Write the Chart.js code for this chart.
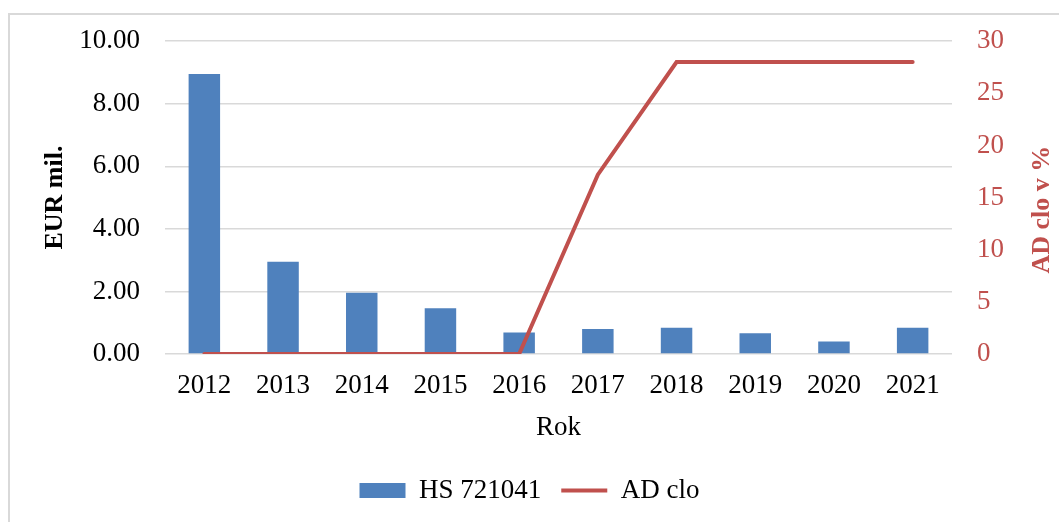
<!DOCTYPE html>
<html>
<head>
<meta charset="utf-8">
<script src="https://cdn.jsdelivr.net/npm/chart.js@4/dist/chart.umd.min.js"></script>
<style>
  body { margin: 0; background: #fff; }
  canvas { display: block; }
</style>
</head>
<body>
<canvas id="chart" width="1059" height="522"></canvas>
<script>
var years = ['2012', '2013', '2014', '2015', '2016', '2017', '2018', '2019', '2020', '2021'];
var importValues = [8.95, 2.95, 1.96, 1.46, 0.69, 0.80, 0.84, 0.66, 0.40, 0.84];
var dutyRates = [0, 0, 0, 0, 0, 17.2, 28, 28, 28, 28];
var leftTicks = [0, 2, 4, 6, 8, 10];
var rightTicks = [0, 5, 10, 15, 20, 25, 30];

var blue = '#4F81BD';
var red = '#C0504D';
var serif = "'Liberation Serif', 'Times New Roman', serif";
var rightTitle = 'AD clo v %';

// light frame around the whole chart
var framePlugin = {
    id: 'frame',
    beforeDraw: function(chart){
        var ctx = chart.ctx;
        ctx.save();
        ctx.fillStyle = '#fff';
        ctx.fillRect(0, 0, chart.width, chart.height);
        ctx.strokeStyle = '#d9d9d9';
        ctx.lineWidth = 2;
        ctx.strokeRect(9, 14, chart.width + 10, chart.height + 10);
        ctx.restore();
    }
};

// right axis title reads bottom-to-top, same as the left one
var rightTitlePlugin = {
    id: 'rightTitle',
    afterDraw: function(chart){
        var scale = chart.scales.y1;
        var area = chart.chartArea;
        var ctx = chart.ctx;
        ctx.save();
        ctx.translate(scale.right - 17, (area.top + area.bottom) / 2 + 12);
        ctx.rotate(-Math.PI / 2);
        ctx.fillStyle = red;
        ctx.font = 'bold 26px ' + serif;
        ctx.textAlign = 'center';
        ctx.textBaseline = 'middle';
        ctx.fillText(rightTitle, 0, 0);
        ctx.restore();
    }
};

var ctx = document.getElementById('chart').getContext('2d');
var chart = new Chart(ctx, {
    data: {
        labels: years,
        datasets: [{
            type: 'bar',
            label: 'HS 721041',
            data: importValues,
            backgroundColor: blue,
            yAxisID: 'y',
            order: 2,
            barPercentage: 0.4,
            categoryPercentage: 1,
            pointStyle: 'rect'
        }, {
            type: 'line',
            label: 'AD clo',
            data: dutyRates,
            borderColor: red,
            backgroundColor: red,
            borderWidth: 4,
            pointRadius: 0,
            tension: 0,
            borderCapStyle: 'round',
            yAxisID: 'y1',
            order: 1,
            pointStyle: 'line'
        }]
    },
    options: {
        responsive: false,
        devicePixelRatio: 1,
        animation: false,
        layout: { padding: { top: 40, left: 0, right: 0, bottom: 8 } },
        plugins: {
            tooltip: { enabled: false },
            legend: {
                position: 'bottom',
                labels: {
                    usePointStyle: true,
                    pointStyleWidth: 46,
                    boxHeight: 15,
                    padding: 20,
                    color: '#000',
                    font: { family: serif, size: 27 },
                    sort: function(a, b){ return a.datasetIndex - b.datasetIndex; }
                }
            }
        },
        scales: {
            x: {
                grid: { display: false },
                border: { display: false },
                ticks: { color: '#000', padding: 8, font: { family: serif, size: 27 } },
                title: { display: true, text: 'Rok', color: '#000', padding: { top: 1, bottom: 13 }, font: { family: serif, size: 27 } },
                afterFit: function(scale){ scale.height = 103; }
            },
            y: {
                position: 'left',
                min: 0,
                max: 10,
                afterBuildTicks: function(scale){
                    scale.ticks = leftTicks.map(function(v){ return { value: v }; });
                },
                grid: { color: '#d9d9d9', lineWidth: 1.5, drawTicks: false },
                border: { display: false },
                ticks: {
                    color: '#000',
                    padding: 25,
                    font: { family: serif, size: 27 },
                    callback: function(v){ return v.toFixed(2); }
                },
                title: { display: true, text: 'EUR mil.', color: '#000', padding: { top: 40, bottom: 0 }, font: { family: serif, size: 26, weight: 'bold' } },
                afterFit: function(scale){ scale.width = 165; }
            },
            y1: {
                position: 'right',
                min: 0,
                max: 30,
                afterBuildTicks: function(scale){
                    scale.ticks = rightTicks.map(function(v){ return { value: v }; });
                },
                grid: { display: false, drawTicks: false },
                border: { display: false },
                ticks: { color: red, padding: 25, font: { family: serif, size: 27 } },
                afterFit: function(scale){ scale.width = 107; }
            }
        }
    },
    plugins: [framePlugin, rightTitlePlugin]
});
</script>
</body>
</html>
